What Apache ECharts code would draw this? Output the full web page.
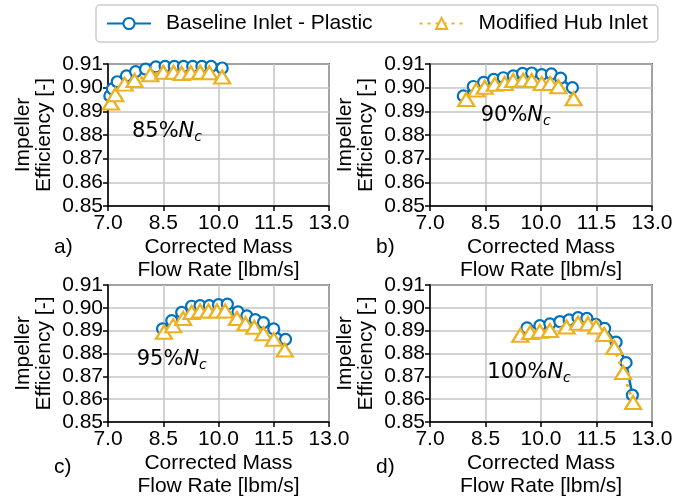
<!DOCTYPE html>
<html>
<head>
<meta charset="utf-8">
<title>Impeller efficiency</title>
<script src="https://cdn.jsdelivr.net/npm/echarts@6/dist/echarts.min.js"></script>
<style>
  html, body { margin: 0; background: #fff; }
  #chart { width: 689px; height: 499px; }
</style>
</head>
<body>
<div id="chart"></div>
<script>
// [corrected mass flow, impeller efficiency]
const base85 = [[7.05,0.8965],[7.12,0.8995],[7.25,0.9025],[7.5,0.905],[7.75,0.9068],[8.02,0.9078],[8.3,0.9088],[8.55,0.909],[8.8,0.909],[9.05,0.909],[9.3,0.909],[9.55,0.909],[9.8,0.909],[10.1,0.9083]];
const mod85 = [[7.08,0.8935],[7.2,0.897],[7.45,0.9015],[7.72,0.903],[8.15,0.9055],[8.5,0.9065],[8.78,0.9065],[9.0,0.906],[9.25,0.9063],[9.5,0.9065],[9.75,0.9063],[10.1,0.9045]];
const base90 = [[7.9,0.8965],[8.17,0.9005],[8.45,0.9022],[8.72,0.9035],[8.98,0.9042],[9.25,0.905],[9.5,0.906],[9.75,0.9062],[10.02,0.9055],[10.28,0.9058],[10.53,0.904],[10.85,0.9]];
const mod90 = [[7.98,0.895],[8.25,0.899],[8.48,0.9002],[8.75,0.9014],[9.02,0.9018],[9.25,0.903],[9.52,0.9032],[9.75,0.903],[10.02,0.9018],[10.25,0.9018],[10.47,0.9004],[10.88,0.8953]];
const base95 = [[8.48,0.8908],[8.73,0.8944],[9.0,0.898],[9.27,0.9007],[9.5,0.901],[9.75,0.901],[10.0,0.9014],[10.24,0.9016],[10.53,0.8982],[10.77,0.8965],[11.0,0.8948],[11.22,0.8935],[11.5,0.8908],[11.82,0.8862]];
const mod95 = [[8.52,0.8893],[8.77,0.8922],[9.04,0.8953],[9.27,0.898],[9.5,0.8986],[9.73,0.8986],[9.96,0.8986],[10.18,0.8986],[10.5,0.8953],[10.73,0.893],[10.97,0.8915],[11.22,0.8887],[11.5,0.8862],[11.8,0.8815]];
const base100 = [[9.62,0.8912],[9.97,0.8922],[10.24,0.893],[10.51,0.894],[10.76,0.8947],[11.0,0.8957],[11.24,0.8954],[11.48,0.8928],[11.72,0.891],[12.03,0.885],[12.3,0.876],[12.47,0.8618]];
const mod100 = [[9.44,0.888],[9.71,0.8892],[9.97,0.8897],[10.24,0.8901],[10.69,0.8916],[11.0,0.8933],[11.27,0.893],[11.49,0.8916],[11.71,0.8883],[11.98,0.8826],[12.22,0.8717],[12.49,0.8585]];

const speeds = ['85%', '90%', '95%', '100%'];
const panelTags = ['a)', 'b)', 'c)', 'd)'];
const speedTextAt = [[7.65,0.8815],[8.37,0.8884],[7.78,0.8775],[8.55,0.8716]];
const seriesNames = ['Baseline Inlet - Plastic', 'Modified Hub Inlet'];

const baseSets = [base85, base90, base95, base100];
const modSets = [mod85, mod90, mod95, mod100];

const BLUE = '#0072bd';
const GOLD = '#edb120';
const FONT = 'Liberation Sans';

let myChart = echarts.init(document.getElementById('chart'));

let boxes = [
  {left: 108, top: 64, width: 221, height: 142},
  {left: 430, top: 64, width: 222, height: 142},
  {left: 108, top: 285, width: 221, height: 141},
  {left: 430, top: 285, width: 222, height: 141}
];

let grids = [], xAxes = [], yAxes = [], series = [], graphics = [];

boxes.forEach(function(b, i) {
  grids.push(Object.assign({show: true, borderColor: '#000', borderWidth: 1.5, backgroundColor: '#fff'}, b));
  xAxes.push({
    type: 'value', gridIndex: i, min: 7, max: 13, interval: 1.5,
    name: 'Corrected Mass\nFlow Rate [lbm/s]', nameLocation: 'middle', nameGap: 30,
    nameTextStyle: {fontFamily: FONT, fontSize: 21, color: '#000', lineHeight: 23},
    axisLine: {show: true, onZero: false, lineStyle: {color: '#000', width: 1.5}},
    axisTick: {show: true, inside: false, length: 5, lineStyle: {color: '#000', width: 1.5}},
    axisLabel: {fontFamily: FONT, fontSize: 21, color: '#000', margin: 7,
      formatter: function(v) { return v.toFixed(1); }},
    splitLine: {show: true, lineStyle: {color: '#c4c4c4', width: 1.5}}
  });
  yAxes.push({
    type: 'value', gridIndex: i, min: 0.85, max: 0.91, interval: 0.01,
    name: 'Impeller\nEfficiency [-]', nameLocation: 'middle', nameGap: 53, nameRotate: 90,
    nameTextStyle: {fontFamily: FONT, fontSize: 21, color: '#000', lineHeight: 21},
    axisLine: {show: true, onZero: false, lineStyle: {color: '#000', width: 1.5}},
    axisTick: {show: true, inside: false, length: 5, lineStyle: {color: '#000', width: 1.5}},
    axisLabel: {fontFamily: FONT, fontSize: 21, color: '#000', margin: 5,
      formatter: function(v) { return v.toFixed(2); }},
    splitLine: {show: true, lineStyle: {color: '#c4c4c4', width: 1.5}}
  });

  series.push({
    name: seriesNames[0], type: 'line', xAxisIndex: i, yAxisIndex: i,
    data: baseSets[i], clip: true,
    symbol: 'circle', symbolSize: 11,
    lineStyle: {color: BLUE, width: 2.5},
    itemStyle: {color: '#fff', borderColor: BLUE, borderWidth: 2.2},
    emphasis: {disabled: true}, z: 3
  });
  series.push({
    name: seriesNames[1], type: 'line', xAxisIndex: i, yAxisIndex: i,
    data: modSets[i], clip: true,
    symbol: 'triangle', symbolSize: [16, 13],
    lineStyle: {color: GOLD, width: 3, type: [3, 5]},
    itemStyle: {color: '#fff', borderColor: GOLD, borderWidth: 2.2},
    emphasis: {disabled: true}, z: 4,
    markPoint: {
      symbol: 'circle', symbolSize: 0, silent: true,
      data: [{coord: speedTextAt[i]}],
      label: {
        show: true, position: 'right', distance: 0,
        formatter: '{n|' + speeds[i] + '}{i|N}{s|c}',
        rich: {
          n: {fontFamily: 'DejaVu Sans', fontSize: 21, color: '#000', lineHeight: 24},
          i: {fontFamily: 'DejaVu Sans', fontSize: 21, fontStyle: 'italic', color: '#000', lineHeight: 24},
          s: {fontFamily: 'DejaVu Sans', fontSize: 14, fontStyle: 'italic', color: '#000', lineHeight: 24, padding: [12, 0, 0, 0]}
        }
      }
    }
  });

  graphics.push({
    type: 'text', left: b.left - 54, top: b.top + b.height + 31,
    style: {text: panelTags[i], font: '21px "Liberation Sans"', fill: '#000'}
  });
});

let option = {
  animation: false,
  backgroundColor: '#fff',
  legend: {
    data: seriesNames,
    left: 96, top: 5,
    padding: [8, 10, 8, 10],
    itemWidth: 44, itemHeight: 14, itemGap: 46,
    borderColor: '#cccccc', borderWidth: 1.5, borderRadius: 4,
    textStyle: {fontFamily: FONT, fontSize: 21, color: '#000', padding: [0, 0, 0, 10]}
  },
  grid: grids,
  xAxis: xAxes,
  yAxis: yAxes,
  series: series,
  graphic: graphics
};

myChart.setOption(option);
</script>
</body>
</html>
